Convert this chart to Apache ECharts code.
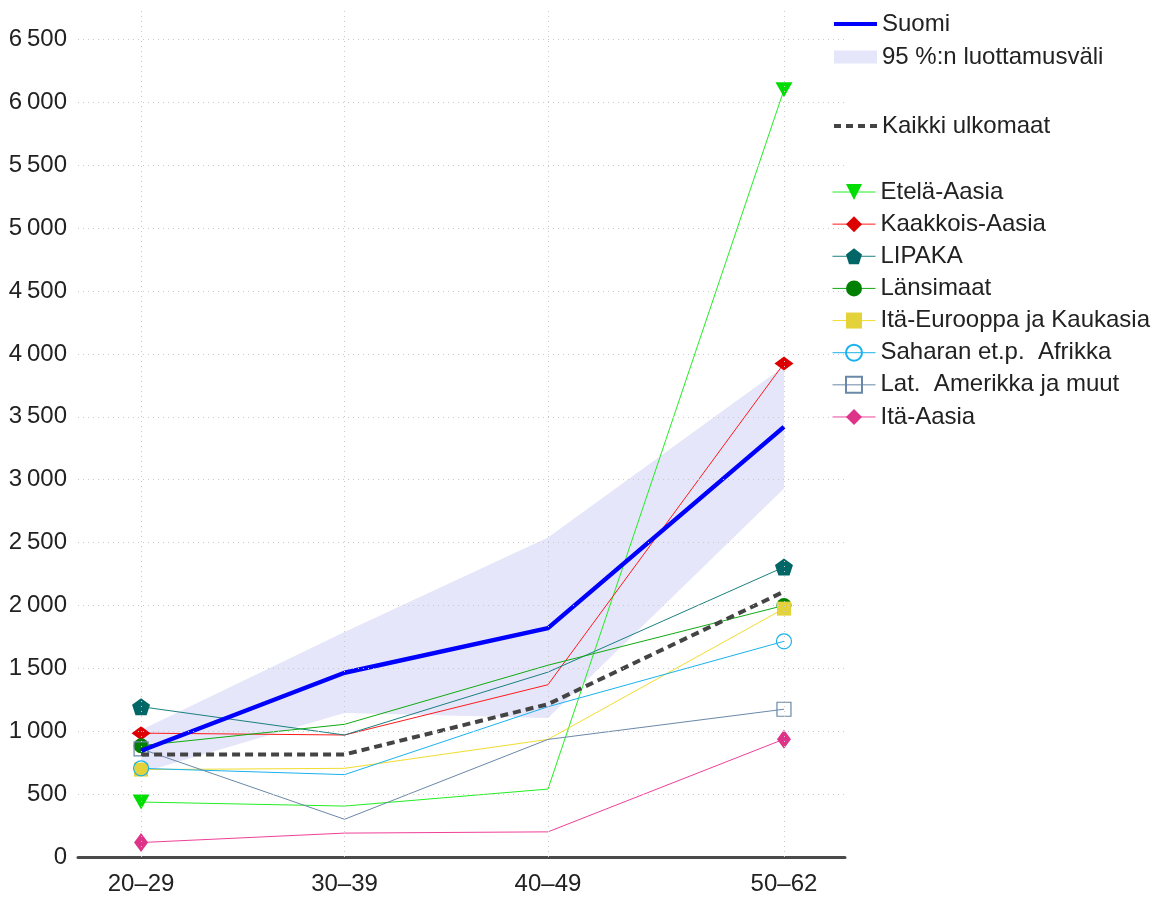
<!DOCTYPE html>
<html>
<head>
<meta charset="utf-8">
<script src="https://cdn.jsdelivr.net/npm/echarts@6/dist/echarts.min.js"></script>
<style>
html,body{margin:0;padding:0;background:#fff;}
#chart{width:1165px;height:899px;}
</style>
</head>
<body>
<div id="chart"></div>
<script>
// ---- data ----
const categories = ['20\u201329', '30\u201339', '40\u201349', '50\u201362'];
const ageMid = [25, 35, 45, 56.6];
const yTicks = [0, 500, 1000, 1500, 2000, 2500, 3000, 3500, 4000, 4500, 5000, 5500, 6000, 6500];

const suomi = [845, 1465, 1820, 3420];
const ciLow = [670, 1145, 1105, 2930];
const ciHigh = [1010, 1790, 2540, 3900];
const kaikkiUlkomaat = [815, 815, 1215, 2110];

const etelaAasia = [437, 405, 540, 6100];
const kaakkoisAasia = [985, 970, 1370, 3925];
const lipaka = [1195, 970, 1470, 2305];
const lansimaat = [885, 1055, 1525, 2000];
const itaEurooppa = [695, 705, 935, 1975];
const saharanAfrikka = [705, 655, 1195, 1715];
const latAmerikka = [860, 300, 935, 1175];
const itaAasia = [115, 190, 200, 937];

// ---- chart ----
const FONT = '"Liberation Sans", Arial, Helvetica, sans-serif';
const pentagon = 'path://M50,0 L97.6,34.5 L79.4,90.5 L20.6,90.5 L2.4,34.5 Z';

function pts(vals, withEndSymbols) {
  return vals.map((v, i) => {
    const item = { value: [ageMid[i], v] };
    if (withEndSymbols && i !== 0 && i !== vals.length - 1) item.symbol = 'none';
    return item;
  });
}

function region(name, vals, symbol, size, lineColor, markerColor, extra) {
  const s = {
    name: name,
    type: 'line',
    data: pts(vals, true),
    symbol: symbol,
    symbolSize: size,
    showSymbol: true,
    lineStyle: { color: lineColor, width: 1 },
    itemStyle: { color: markerColor },
    emphasis: { disabled: true },
    z: 3
  };
  if (extra) Object.assign(s, extra);
  return s;
}

const series = [
  {
    name: '95 %:n luottamusväli',
    type: 'custom',
    data: ageMid.map((x, i) => [x, ciLow[i], ciHigh[i]]),
    encode: { x: 0, y: [1, 2] },
    itemStyle: { color: '#e6e6fa' },
    silent: true,
    z: 1,
    renderItem: function (params, api) {
      if (params.dataIndex !== 0) return null;
      const upper = ageMid.map((x, i) => api.coord([x, ciHigh[i]]));
      const lower = ageMid.map((x, i) => api.coord([x, ciLow[i]])).reverse();
      return { type: 'polygon', shape: { points: upper.concat(lower) }, style: { fill: '#e6e6fa' } };
    }
  },
  {
    name: 'Suomi',
    type: 'line',
    data: pts(suomi, false),
    symbol: 'none',
    lineStyle: { color: '#0000ff', width: 4.5 },
    itemStyle: { color: '#0000ff' },
    emphasis: { disabled: true },
    z: 4,
    markLine: {
      silent: true,
      symbol: 'none',
      label: { show: false },
      lineStyle: { color: '#c8c8c8', type: [1, 4], width: 1 },
      data: yTicks.filter(v => v > 0).map(v => ({ yAxis: v })).concat(ageMid.map(x => ({ xAxis: x })))
    }
  },
  {
    name: 'Kaikki ulkomaat',
    type: 'line',
    data: pts(kaikkiUlkomaat, false),
    symbol: 'none',
    lineStyle: { color: '#444444', width: 4, type: [8, 5] },
    itemStyle: { color: '#444444' },
    emphasis: { disabled: true },
    z: 4
  },
  region('Etelä-Aasia', etelaAasia, 'triangle', [17, 15], '#22ee22', '#00dd00', { symbolRotate: 180 }),
  region('Kaakkois-Aasia', kaakkoisAasia, 'diamond', [19, 14], '#ff1a1a', '#dd0000'),
  region('LIPAKA', lipaka, pentagon, [18, 17], '#1a8080', '#006666'),
  region('Länsimaat', lansimaat, 'circle', 15, '#11aa11', '#008000'),
  region('Itä-Eurooppa ja Kaukasia', itaEurooppa, 'rect', 14, '#f2dd2e', '#e3d23a'),
  region('Saharan et.p.  Afrikka', saharanAfrikka, 'circle', 15, '#1ab2ee', 'transparent',
    { itemStyle: { color: 'transparent', borderColor: '#1ab2ee', borderWidth: 1.2 } }),
  region('Lat.  Amerikka ja muut', latAmerikka, 'rect', 14, '#6a88a8', 'transparent',
    { itemStyle: { color: 'transparent', borderColor: '#6a88a8', borderWidth: 1.2 } }),
  region('Itä-Aasia', itaAasia, 'diamond', [14, 19], '#f0409a', '#dd3388')
];

const legendText = { fontFamily: FONT, fontSize: 24, color: '#222', lineHeight: 24 };

const option = {
  animation: false,
  backgroundColor: '#ffffff',
  textStyle: { fontFamily: FONT },
  grid: { left: 78, right: 320, top: 10, bottom: 42 },
  xAxis: {
    type: 'value',
    min: 21.9,
    max: 59.6,
    axisLine: { show: true, onZero: false, lineStyle: { color: '#4a4a4a', width: 3 } },
    axisTick: { show: false },
    splitLine: { show: false },
    axisLabel: {
      customValues: ageMid,
      margin: 15,
      fontFamily: FONT,
      fontSize: 24,
      color: '#222',
      formatter: function (v) {
        const i = ageMid.indexOf(v);
        return i >= 0 ? categories[i] : '';
      }
    }
  },
  yAxis: {
    type: 'value',
    min: 0,
    max: 6735,
    interval: 500,
    axisLine: { show: false },
    axisTick: { show: false },
    splitLine: { show: false },
    axisLabel: {
      margin: 11,
      fontFamily: FONT,
      fontSize: 24,
      color: '#222',
      formatter: function (v) {
        if (yTicks.indexOf(v) < 0) return '';
        const s = String(v);
        return s.length > 3 ? s.slice(0, s.length - 3) + '\u2009' + s.slice(-3) : s;
      }
    }
  },
  legend: [
    {
      orient: 'vertical', left: 832, top: 12, padding: 0,
      itemWidth: 43, itemHeight: 13, itemGap: 9,
      selectedMode: false,
      textStyle: legendText,
      data: [
        { name: 'Suomi', itemStyle: { opacity: 0 }, lineStyle: { width: 4 } },
        { name: '95 %:n luottamusväli', icon: 'rect' }
      ]
    },
    {
      orient: 'vertical', left: 832, top: 114, padding: 0,
      itemWidth: 43, itemHeight: 13, itemGap: 9,
      selectedMode: false,
      textStyle: legendText,
      data: [{ name: 'Kaikki ulkomaat', itemStyle: { opacity: 0 }, lineStyle: { width: 4, type: [7, 5] } }]
    },
    {
      orient: 'vertical', left: 832, top: 180, padding: 0,
      itemWidth: 43, itemHeight: 20, itemGap: 8.14,
      selectedMode: false,
      lineStyle: { width: 1 },
      textStyle: legendText,
      data: ['Etelä-Aasia', 'Kaakkois-Aasia', 'LIPAKA', 'Länsimaat', 'Itä-Eurooppa ja Kaukasia',
             'Saharan et.p.  Afrikka', 'Lat.  Amerikka ja muut', 'Itä-Aasia']
    }
  ],
  series: series
};

const chart = echarts.init(document.getElementById('chart'), null, { renderer: 'canvas' });
chart.setOption(option);
</script>
</body>
</html>
